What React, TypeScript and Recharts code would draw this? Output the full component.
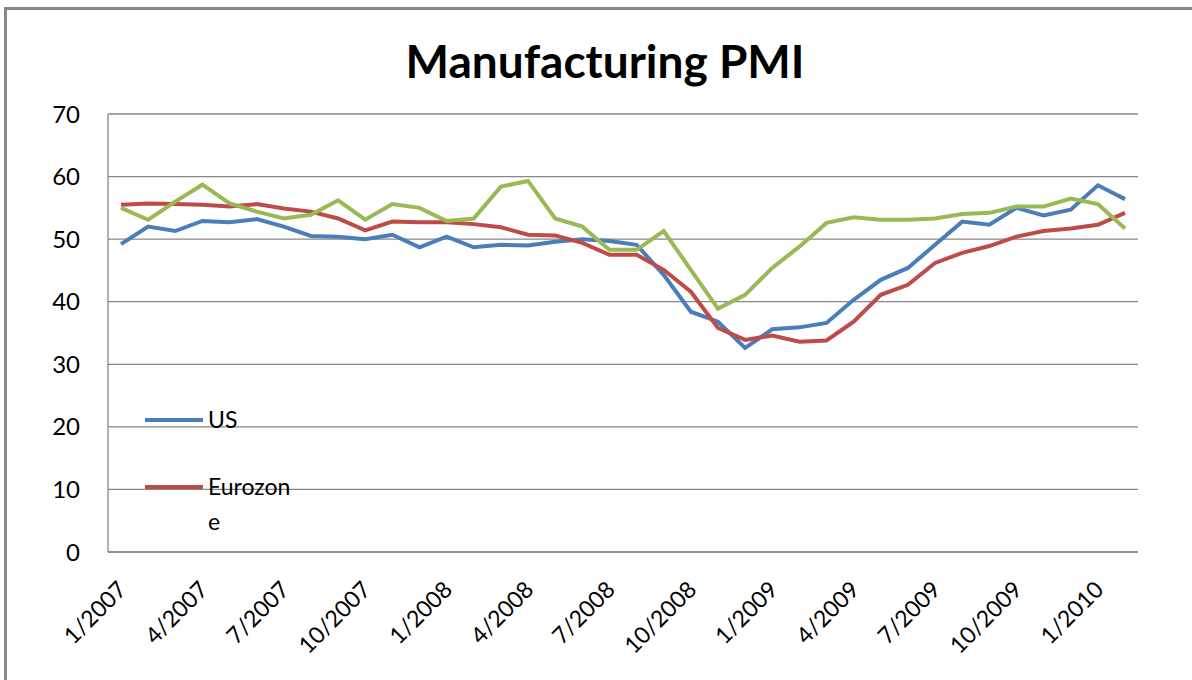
import { LineChart, Line, XAxis, YAxis, CartesianGrid } from 'recharts';

const months = [
  '1/2007', '2/2007', '3/2007', '4/2007', '5/2007', '6/2007', '7/2007', '8/2007', '9/2007', '10/2007', '11/2007', '12/2007',
  '1/2008', '2/2008', '3/2008', '4/2008', '5/2008', '6/2008', '7/2008', '8/2008', '9/2008', '10/2008', '11/2008', '12/2008',
  '1/2009', '2/2009', '3/2009', '4/2009', '5/2009', '6/2009', '7/2009', '8/2009', '9/2009', '10/2009', '11/2009', '12/2009',
  '1/2010', '2/2010',
];

const us = [
  49.2, 52.0, 51.3, 52.9, 52.7, 53.2, 52.0, 50.5, 50.4, 50.0, 50.7, 48.7,
  50.4, 48.7, 49.1, 49.0, 49.6, 50.0, 49.7, 49.1, 44.3, 38.4, 36.8, 32.6,
  35.6, 35.9, 36.6, 40.3, 43.5, 45.4, 49.1, 52.8, 52.3, 55.0, 53.8, 54.7,
  58.6, 56.4,
];

const eurozone = [
  55.5, 55.7, 55.6, 55.5, 55.2, 55.6, 54.9, 54.4, 53.3, 51.4, 52.8, 52.7,
  52.7, 52.4, 51.9, 50.7, 50.6, 49.4, 47.5, 47.5, 45.1, 41.6, 35.8, 33.9,
  34.6, 33.6, 33.8, 36.8, 41.1, 42.7, 46.2, 47.8, 48.9, 50.4, 51.3, 51.7,
  52.3, 54.2,
];

const china = [
  55.0, 53.1, 56.0, 58.7, 55.7, 54.4, 53.3, 53.9, 56.2, 53.1, 55.6, 55.0,
  52.9, 53.3, 58.4, 59.3, 53.3, 52.0, 48.3, 48.3, 51.3, 45.1, 38.9, 41.1,
  45.4, 48.8, 52.6, 53.5, 53.1, 53.1, 53.3, 54.0, 54.2, 55.2, 55.2, 56.5,
  55.6, 51.7,
];

const yTicks = [0, 10, 20, 30, 40, 50, 60, 70];

const data = months.map((m, i) => ({ month: m, us: us[i], eurozone: eurozone[i], china: china[i] }));

const font = 'Lato, "Open Sans", sans-serif';
const gridColor = '#878787';

const XTick = ({ x, y, payload }: any) => (
  <text
    x={0}
    y={0}
    transform={`translate(${x + 7}, ${y + 31}) rotate(-45)`}
    textAnchor="end"
    fontSize={23}
    fontFamily={font}
    fill="#000"
  >
    {payload.value}
  </text>
);

const LegendBox = () => (
  <div style={{ fontFamily: font, fontSize: 23, color: '#000', lineHeight: '35px' }}>
    <div style={{ display: 'flex', alignItems: 'center' }}>
      <div style={{ width: 58, height: 4, background: '#4A7EBB', marginRight: 5 }} />
      <span>US</span>
    </div>
    <div style={{ display: 'flex', alignItems: 'flex-start', marginTop: 32 }}>
      <div style={{ width: 58, height: 4, background: '#BE4B48', marginRight: 5, marginTop: 16 }} />
      <span>
        Eurozon
        <br />e
      </span>
    </div>
  </div>
);

export default function App() {
  return (
    <div style={{ position: 'absolute', left: 0, top: 0, width: 1192, height: 680, background: '#fff', overflow: 'hidden' }}>
      <div
        style={{
          position: 'absolute',
          left: 0,
          width: 1210,
          top: 33,
          textAlign: 'center',
          fontFamily: font,
          fontWeight: 700,
          fontSize: 46,
          color: '#000',
        }}
      >
        Manufacturing PMI
      </div>
      <div style={{ position: 'absolute', left: 0, top: 0 }}>
        <LineChart width={1192} height={680} data={data} margin={{ top: 114, right: 54, left: 48, bottom: 68 }}>
          <CartesianGrid vertical={false} stroke={gridColor} strokeWidth={1.3} />
          <XAxis
            dataKey="month"
            interval={2}
            tickLine={false}
            padding={{ left: 13, right: 13 }}
            axisLine={{ stroke: gridColor, strokeWidth: 1.3 }}
            height={60}
            tick={<XTick />}
          />
          <YAxis
            domain={[0, 70]}
            ticks={yTicks}
            width={60}
            tickLine={false}
            tickSize={0}
            tickMargin={28}
            axisLine={{ stroke: gridColor, strokeWidth: 1.3 }}
            tick={{ fontSize: 24, fontFamily: font, fill: '#000' }}
          />
          <Line type="linear" dataKey="us" name="US" stroke="#4A7EBB" strokeWidth={4} dot={false} isAnimationActive={false} />
          <Line type="linear" dataKey="eurozone" name="Eurozone" stroke="#BE4B48" strokeWidth={4} dot={false} isAnimationActive={false} />
          <Line type="linear" dataKey="china" name="China" stroke="#98B954" strokeWidth={4} dot={false} isAnimationActive={false} />
        </LineChart>
      </div>
      <div style={{ position: 'absolute', left: 145, top: 402, width: 200 }}>
        <LegendBox />
      </div>
      <div style={{ position: 'absolute', left: 4, top: 7, width: 3, height: 673, background: gridColor }} />
      <div style={{ position: 'absolute', left: 4, top: 7, width: 1188, height: 3, background: gridColor }} />
    </div>
  );
}
